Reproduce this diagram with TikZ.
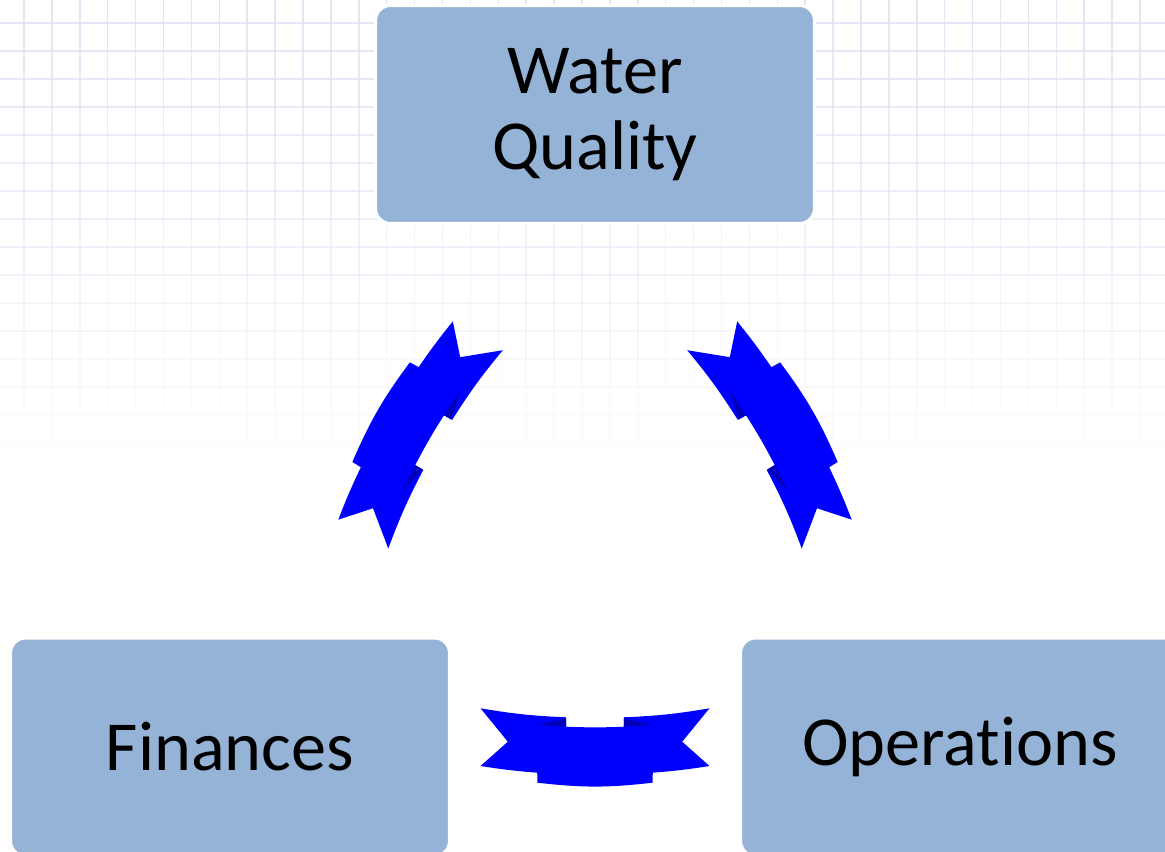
\documentclass[tikz,border=0pt]{standalone}
\usepackage{fontspec}
\setmainfont{Carlito}[Ligatures=NoCommon]
\definecolor{boxblue}{RGB}{149,179,215}
\definecolor{ribbonblue}{RGB}{0,0,255}
\definecolor{folddark}{RGB}{0,0,185}
\definecolor{gridline}{RGB}{222,225,243}

\newcommand{\drawribbon}{%
  \fill [ribbonblue] (-114.5,28.7) to[bend right=3.6] (-28.8,19.7) -- (-28.8,10.3)
    to[bend right=2.3] (28.8,10.3) -- (28.8,19.7) to[bend right=3.6] (114.5,28.7)
    -- (87.2,-4.7) -- (114.5,-29) to[bend left=2.2] (57.8,-35.7) -- (57.5,-45.7)
    to[bend left=6.6] (-57.5,-45.7) -- (-57.8,-35.7) to[bend left=2.2] (-114.5,-29)
    -- (-87.2,-4.7) -- cycle;
  \fill [folddark] (-57.5,12) -- (-28.8,18.7) -- (-28.8,10.3) -- cycle;
  \fill [folddark] (57.5,12) -- (28.8,18.7) -- (28.8,10.3) -- cycle;
}

\begin{document}
\begin{tikzpicture}[x=0.02cm, y=0.02cm,
    box/.style={draw=white, line width=0.06cm, fill=boxblue, rounded corners=0.3cm,
      minimum width=8.78cm, minimum height=4.36cm, align=center, inner sep=0pt,
      font=\fontsize{40}{44.5}\selectfont}]
  \useasboundingbox (0,0) rectangle (1165,851);
  \clip (0,0) rectangle (1165,851);
  \fill [white] (0,0) rectangle (1165,851);
  \foreach \r in {0,...,15} {
    \pgfmathsetmacro\gy{828-28*\r}
    \pgfmathsetmacro\gop{0.85-0.052*\r}
    \draw [gridline, line width=0.03cm, opacity=\gop] (0,\gy) -- (1165,\gy);
    \foreach \c in {0,...,41}
      \draw [gridline, line width=0.03cm, opacity=\gop] (24+27.9*\c,\gy) -- ++(0,28);
  }
  \node [box] (quality) at (595,736.5) {\raisebox{-4pt}{Water}\\\raisebox{-3pt}{Quality}};
  \node [box] (finances) at (230,104) {Finances};
  \node [box] (operations) at (960,104) {Operations};
  \coordinate (hub) at (595,315.3);
  \foreach \ang in {0,-120,120} {
    \begin{scope}[shift={(hub)}, rotate=\ang, shift={(0,-201.3)}]
      \drawribbon
    \end{scope}
  }
\end{tikzpicture}
\end{document}
